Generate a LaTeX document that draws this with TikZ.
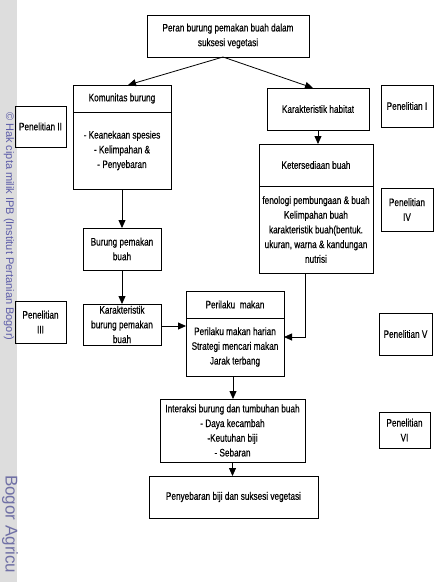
\documentclass[tikz,border=0pt]{standalone}
\usepackage{fontspec}
\setmainfont{Liberation Sans}[FakeStretch=0.76,FakeBold=0.4]
\newfontfamily\wmfont{Liberation Sans}
\usetikzlibrary{arrows.meta,positioning}

\definecolor{wmband}{RGB}{221,221,221}
\definecolor{wmtext}{RGB}{92,92,168}
\definecolor{wmbig}{RGB}{112,112,165}

\tikzset{
  box/.style={draw, line width=1pt, align=center, inner sep=1pt, outer sep=0pt,
    font=\fontsize{10.8}{14.7}\selectfont},
  arr/.style={-{Triangle[length=8pt,width=7pt]}, line width=0.8pt},
}

\begin{document}
\begin{tikzpicture}[x=1pt,y=1pt]
\useasboundingbox (0,0) rectangle (435,-582);

% watermark strip
\fill[wmband] (0,0) rectangle (17,-582);
\node[rotate=-90, anchor=west, text=wmtext, inner sep=0pt,
  font=\wmfont\fontsize{11}{12}\selectfont] (wmA) at (9,-112)
  {© Hak cipta milik IPB (Institut Pertanian Bogor)};
\node[rotate=-90, anchor=west, text=wmbig, inner sep=0pt,
  font=\wmfont\fontsize{17}{20}\selectfont] (wmB) at (10,-475) {Bogor Agricu};

\node[box, minimum width=162pt, minimum height=42pt] (peran) at (228,-36)
  {Peran burung pemakan buah dalam\\suksesi vegetasi};

\node[box, minimum width=98pt, minimum height=27pt] (komH) at (122,-98.5) {Komunitas burung};
\node[box, minimum width=98pt, minimum height=77pt, below=0pt of komH] (komB)
  {- Keanekaan spesies\\- Kelimpahan \&\\- Penyebaran};

\node[box, minimum width=102pt, minimum height=42pt] (hab) at (318,-109) {Karakteristik habitat};

\node[box, minimum width=114pt, minimum height=42pt] (ketH) at (316,-165) {Ketersediaan buah};
\node[box, minimum width=114pt, minimum height=87pt, below=0pt of ketH] (ketB)
  {fenologi pembungaan \& buah\\Kelimpahan buah\\karakteristik buah(bentuk.\\ukuran, warna \& kandungan\\nutrisi};

\node[box, minimum width=78pt, minimum height=42pt] (burung) at (122,-249) {Burung pemakan\\buah};
\node[box, minimum width=78pt, minimum height=41pt, inner sep=0pt] (karB) at (122,-324.5)
  {Karakteristik\\burung pemakan\\buah};

\node[box, minimum width=98pt, minimum height=27pt] (perH) at (235,-304.5) {Perilaku\ \ makan};
\node[box, minimum width=98pt, minimum height=58pt, below=0pt of perH] (perB)
  {Perilaku makan harian\\Strategi mencari makan\\Jarak terbang};

\node[box, minimum width=145pt, minimum height=63pt] (inter) at (232.5,-430.5)
  {Interaksi burung dan tumbuhan buah\\- Daya kecambah\\-Keutuhan biji\\- Sebaran};
\node[box, minimum width=169pt, minimum height=42pt] (sebar) at (233.5,-497)
  {Penyebaran biji dan suksesi vegetasi};

\node[box, minimum width=52pt, minimum height=42pt] (pen1) at (407,-106) {Penelitian I};
\node[box, minimum width=51pt, minimum height=41pt] (pen2) at (40.5,-126.5) {Penelitian II};
\node[box, minimum width=51pt, minimum height=42pt] (pen3) at (40.5,-322) {Penelitian\\III};
\node[box, minimum width=52pt, minimum height=43pt] (pen4) at (407,-209.5) {Penelitian\\IV};
\node[box, minimum width=53pt, minimum height=42pt] (pen5) at (405.5,-334) {Penelitian V};
\node[box, minimum width=51pt, minimum height=36pt] (pen6) at (404.5,-430) {Penelitian\\VI};

\draw[arr] ([xshift=-5pt]peran.south) -- ([xshift=6pt]komH.north);
\draw[arr] ([xshift=-5pt]peran.south) -- ([xshift=-5pt]hab.north);
\draw[arr] (hab.south) -- (hab.south |- ketH.north);
\draw[arr] (komB.south) -- (burung.north);
\draw[arr] (burung.south) -- (karB.north);
\draw[arr] ([yshift=-1.5pt]karB.east) -- ([yshift=-1.5pt]karB.east -| perB.west);
\draw[arr] ([xshift=-11pt]ketB.south) |- ([yshift=10pt]perB.east);
\draw[arr] ([xshift=-2pt]perB.south) -- ([xshift=-2pt]perB.south |- inter.north);
\draw[arr] (inter.south) -- (inter.south |- sebar.north);
\end{tikzpicture}
\end{document}
